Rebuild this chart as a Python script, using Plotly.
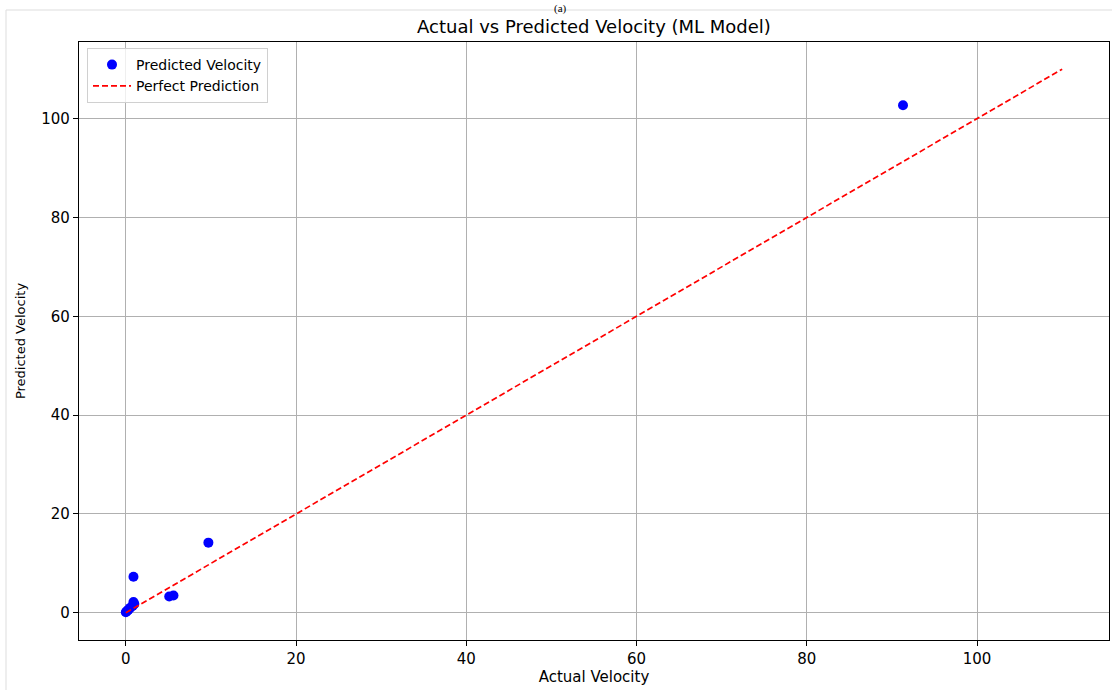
import plotly.graph_objects as go

# Test-set velocities: measured vs model output
actual_velocity = [0.0, 0.1, 0.3, 0.5, 0.8, 1.0, 0.9, 0.9, 5.1, 5.6, 9.7, 91.3]
predicted_velocity = [0.1, 0.3, 0.6, 1.0, 1.4, 1.8, 2.2, 7.3, 3.3, 3.5, 14.2, 102.7]

# Reference line y = x over the full span
ideal_x = [0, 110]
ideal_y = [0, 110]

tick_vals = [0, 20, 40, 60, 80, 100]

W, H = 1112, 690
L, R, T, B = 79, 3, 42, 50
pw, ph = W - L - R, H - T - B


def px_x(p):
    return (p - L) / pw


def px_y(p):
    return (H - B - p) / ph


font_family = "DejaVu Sans"

fig = go.Figure()

fig.add_trace(go.Scatter(
    x=actual_velocity, y=predicted_velocity,
    mode="markers", name="Predicted Velocity",
    marker=dict(color="#0000ff", size=10, line=dict(width=0)),
))

fig.add_trace(go.Scatter(
    x=ideal_x, y=ideal_y,
    mode="lines", name="Perfect Prediction",
    line=dict(color="#ff0000", width=1.7, dash="6px,3px"),
))

axis_common = dict(
    showgrid=True, gridcolor="#b0b0b0", gridwidth=1,
    zeroline=False,
    showline=True, linecolor="black", linewidth=1.2, mirror=True,
    ticks="outside", ticklen=5, tickwidth=1, tickcolor="black",
    tickvals=tick_vals,
    tickfont=dict(family=font_family, size=15, color="black"),
)

fig.update_layout(
    width=W, height=H,
    margin=dict(l=L, r=R, t=T, b=B, pad=0),
    paper_bgcolor="white", plot_bgcolor="white",
    font=dict(family=font_family, color="black"),
    title=dict(
        text="Actual vs Predicted Velocity (ML Model)",
        xref="paper", x=0.5, xanchor="center",
        yref="container", y=1 - 27 / H, yanchor="middle",
        font=dict(family=font_family, size=18, color="black"),
    ),
    xaxis=dict(
        range=[-5.5, 115.5],
        title=dict(text="Actual Velocity", standoff=3,
                   font=dict(family=font_family, size=15, color="black")),
        **axis_common,
    ),
    yaxis=dict(
        range=[-5.5, 115.5],
        title=dict(text="Predicted Velocity", standoff=12,
                   font=dict(family=font_family, size=13, color="black")),
        **axis_common,
    ),
    legend=dict(
        x=px_x(87), y=px_y(48), xanchor="left", yanchor="top",
        bgcolor="rgba(255,255,255,0.8)", bordercolor="#d0d0d0", borderwidth=1,
        font=dict(family=font_family, size=14, color="black"),
        tracegroupgap=0, itemwidth=38,
    ),
    showlegend=True,
)

# Light frame around the figure panel
fig.add_shape(
    type="rect", xref="paper", yref="paper",
    x0=px_x(6), x1=px_x(W + 10), y0=px_y(H + 10), y1=px_y(10),
    line=dict(color="#dddddd", width=1), fillcolor="rgba(0,0,0,0)",
    layer="below",
)

# Panel label above the frame
fig.add_annotation(
    text="(a)", xref="paper", yref="paper",
    x=px_x(560), y=px_y(0), xanchor="center", yanchor="top",
    showarrow=False,
    font=dict(family="Liberation Serif", size=11, color="black"),
)

fig.write_html("out.html")
